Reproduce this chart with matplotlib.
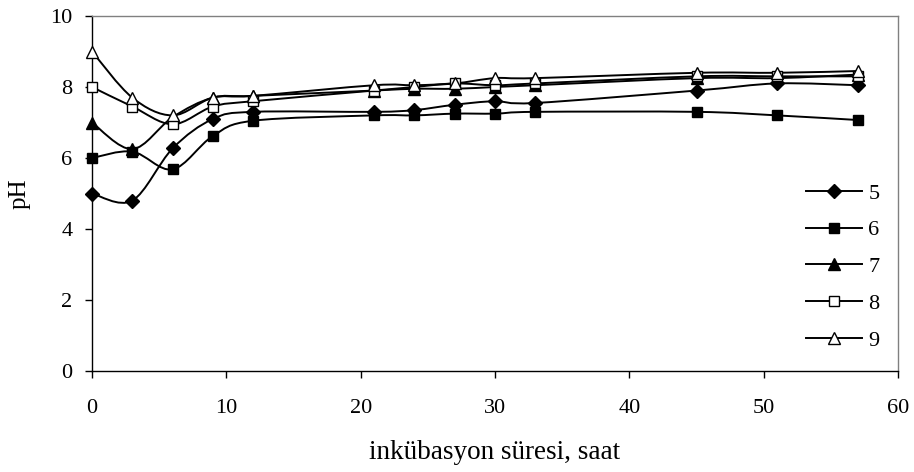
import matplotlib
matplotlib.use("Agg")
import matplotlib.pyplot as plt
from matplotlib.path import Path
from matplotlib.patches import PathPatch
from matplotlib.lines import Line2D
import numpy as np

plt.rcParams['font.family'] = ['Liberation Serif', 'DejaVu Serif']

hours = [0, 3, 6, 9, 12, 21, 24, 27, 30, 33, 45, 51, 57]
ph5 = [5.0, 4.8, 6.27, 7.1, 7.3, 7.3, 7.35, 7.5, 7.6, 7.55, 7.9, 8.1, 8.05]
ph6 = [6.0, 6.18, 5.68, 6.62, 7.05, 7.2, 7.2, 7.25, 7.25, 7.3, 7.3, 7.2, 7.07]
ph7 = [7.0, 6.25, 7.15, 7.7, 7.75, 7.9, 7.95, 7.95, 8.0, 8.05, 8.25, 8.25, 8.35]
ph8 = [8.0, 7.45, 6.95, 7.45, 7.6, 7.9, 8.0, 8.1, 8.05, 8.1, 8.3, 8.3, 8.3]
ph9 = [9.0, 7.7, 7.2, 7.7, 7.75, 8.05, 8.05, 8.1, 8.25, 8.25, 8.4, 8.4, 8.45]
labels = ['5', '6', '7', '8', '9']

series = [ph5, ph6, ph7, ph8, ph9]
styles = [
    dict(marker='D', ms=7.5, mfc='black'),
    dict(marker='s', ms=7.5, mfc='black'),
    dict(marker='^', ms=8.5, mfc='black'),
    dict(marker='s', ms=7, mfc='white'),
    dict(marker='^', ms=8.5, mfc='white'),
]


def smooth_path(x, y):
    pts = np.column_stack([x, y]).astype(float)
    n = len(pts)
    verts = [pts[0]]
    codes = [Path.MOVETO]
    for i in range(n - 1):
        p0 = pts[i - 1] if i > 0 else pts[i]
        p1 = pts[i]
        p2 = pts[i + 1]
        p3 = pts[i + 2] if i + 2 < n else pts[i + 1]
        c1 = p1 + (p2 - p0) / 6.0
        c2 = p2 - (p3 - p1) / 6.0
        verts += [c1, c2, p2]
        codes += [Path.CURVE4] * 3
    return Path(verts, codes)


fig = plt.figure(figsize=(9.14, 4.72), dpi=100)
ax = fig.add_axes([92 / 914, 1 - 371 / 472, (898 - 92) / 914, (371 - 16) / 472])

handles = []
for ys, st, lab in zip(series, styles, labels):
    patch = PathPatch(smooth_path(hours, ys), facecolor='none', edgecolor='black', lw=1.4, zorder=2)
    ax.add_patch(patch)
    ax.plot(hours, ys, linestyle='none', marker=st['marker'], ms=st['ms'],
            mfc=st['mfc'], mec='black', mew=1.0, zorder=3, clip_on=False)
    handles.append(Line2D([], [], color='black', lw=1.4, marker=st['marker'], ms=st['ms'],
                          mfc=st['mfc'], mec='black', mew=1.0))

ax.set_xlim(0, 60)
ax.set_ylim(0, 10)
ax.set_xticks(range(0, 61, 10))
ax.set_yticks(range(0, 11, 2))
ax.tick_params(direction='out', length=5, width=1, labelsize=16, colors='black')
ax.tick_params(axis='x', pad=15)
ax.tick_params(axis='y', pad=9)
for s in ['top', 'right']:
    ax.spines[s].set_color('#808080')
    ax.spines[s].set_linewidth(1.0)
for s in ['left', 'bottom']:
    ax.spines[s].set_color('black')
    ax.spines[s].set_linewidth(1.0)

ax.set_xlabel('inkübasyon süresi, saat', fontsize=19.5, labelpad=16)
ax.set_ylabel('pH', fontsize=18, labelpad=14)

leg = ax.legend(handles, labels, loc='upper left', bbox_to_anchor=(795 / 914, 1 - 172 / 472),
                bbox_transform=fig.transFigure, frameon=False, fontsize=16,
                handlelength=2.5, handletextpad=0.3, labelspacing=0.73, borderpad=0)

fig.savefig('out.png', dpi=100)
